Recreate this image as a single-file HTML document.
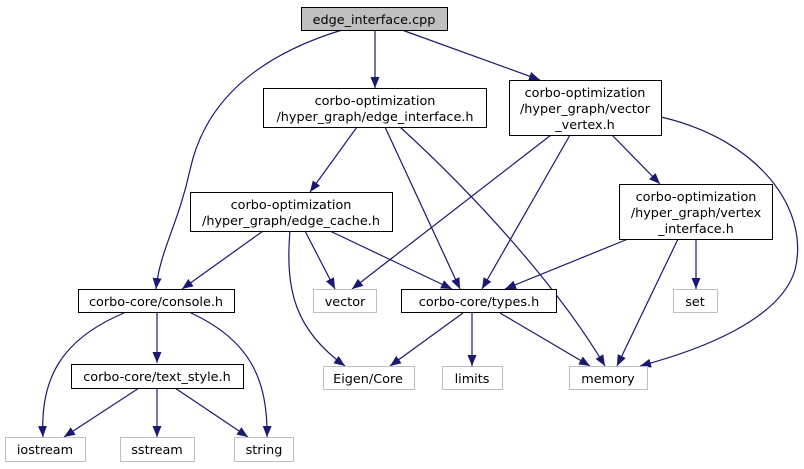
<!DOCTYPE html>
<html><head><meta charset="utf-8"><style>
html,body{margin:0;padding:0;background:#fff;}
svg{display:block;}
text{font-family:"DejaVu Sans","Liberation Sans",sans-serif;font-size:12.8px;fill:#000;}
</style></head><body>
<svg width="804" height="469" viewBox="0 0 804 469" xmlns="http://www.w3.org/2000/svg">
<defs>
<marker id="a" markerWidth="11" markerHeight="9" refX="11" refY="4.5" orient="auto" markerUnits="userSpaceOnUse">
<path d="M0,0 L11,4.5 L0,9 z" fill="#191970"/>
</marker>
</defs>
<g fill="none" stroke="#191970" stroke-width="1.2" marker-end="url(#a)">
<path d="M375,30 L375,88"/>
<path d="M402,30 L540,80"/>
<path d="M342,30 C260,55 205,100 190,170 C178,225 160,250 156,289"/>
<path d="M357,127 L310,192"/>
<path d="M385,127 L460,289"/>
<path d="M400,127 C480,200 560,290 605,366"/>
<path d="M551,135 L352,289"/>
<path d="M570,135 L482,289"/>
<path d="M612,135 L660,184"/>
<path d="M661,117 C760,140 810,210 795,270 C780,320 700,350 640,366"/>
<path d="M263,231 L182,289"/>
<path d="M290,231 C285,290 295,330 345,366"/>
<path d="M305,231 L335,289"/>
<path d="M330,231 L452,289"/>
<path d="M628,239 L505,289"/>
<path d="M678,239 L617,366"/>
<path d="M696,239 L696,289"/>
<path d="M124,313 C60,340 40,380 43,437"/>
<path d="M157,313 L157,363"/>
<path d="M191,313 C250,340 268,380 267,437"/>
<path d="M463,313 L390,366"/>
<path d="M472,313 L472,366"/>
<path d="M500,313 L590,366"/>
<path d="M139,388 L64,437"/>
<path d="M157,388 L157,437"/>
<path d="M175,388 L248,437"/>
</g>
<g stroke-width="1">
<rect x="301.5" y="7.5" width="146" height="23" fill="#bfbfbf" stroke="#000"/>
<rect x="263.5" y="88.5" width="223" height="39" fill="#fff" stroke="#000"/>
<rect x="509.5" y="80.5" width="152" height="55" fill="#fff" stroke="#000"/>
<rect x="190.5" y="192.5" width="202" height="39" fill="#fff" stroke="#000"/>
<rect x="619.5" y="184.5" width="153" height="55" fill="#fff" stroke="#000"/>
<rect x="78.5" y="289.5" width="156" height="23" fill="#fff" stroke="#000"/>
<rect x="313.5" y="289.5" width="63" height="23" fill="#fff" stroke="#bfbfbf"/>
<rect x="401.5" y="289.5" width="155" height="23" fill="#fff" stroke="#000"/>
<rect x="673.5" y="289.5" width="44" height="23" fill="#fff" stroke="#bfbfbf"/>
<rect x="71.5" y="364.5" width="172" height="24" fill="#fff" stroke="#000"/>
<rect x="323.5" y="366.5" width="91" height="23" fill="#fff" stroke="#bfbfbf"/>
<rect x="442.5" y="366.5" width="60" height="23" fill="#fff" stroke="#bfbfbf"/>
<rect x="569.5" y="366.5" width="78" height="23" fill="#fff" stroke="#bfbfbf"/>
<rect x="5.5" y="437.5" width="80" height="24" fill="#fff" stroke="#bfbfbf"/>
<rect x="120.5" y="437.5" width="74" height="24" fill="#fff" stroke="#bfbfbf"/>
<rect x="234.5" y="437.5" width="59" height="24" fill="#fff" stroke="#bfbfbf"/>
</g>
<g text-anchor="middle">
<text x="374" y="24">edge_interface.cpp</text>
<text x="375" y="105">corbo-optimization</text>
<text x="375" y="121">/hyper_graph/edge_interface.h</text>
<text x="585" y="97">corbo-optimization</text>
<text x="585" y="113">/hyper_graph/vector</text>
<text x="585" y="129">_vertex.h</text>
<text x="291" y="209">corbo-optimization</text>
<text x="291" y="225">/hyper_graph/edge_cache.h</text>
<text x="696" y="201">corbo-optimization</text>
<text x="696" y="217">/hyper_graph/vertex</text>
<text x="696" y="233">_interface.h</text>
<text x="156" y="306">corbo-core/console.h</text>
<text x="345" y="306">vector</text>
<text x="479" y="306">corbo-core/types.h</text>
<text x="695" y="306">set</text>
<text x="157" y="381">corbo-core/text_style.h</text>
<text x="368" y="383">Eigen/Core</text>
<text x="472" y="383">limits</text>
<text x="608" y="383">memory</text>
<text x="45" y="454">iostream</text>
<text x="157" y="454">sstream</text>
<text x="264" y="454">string</text>
</g>
</svg>
</body></html>
